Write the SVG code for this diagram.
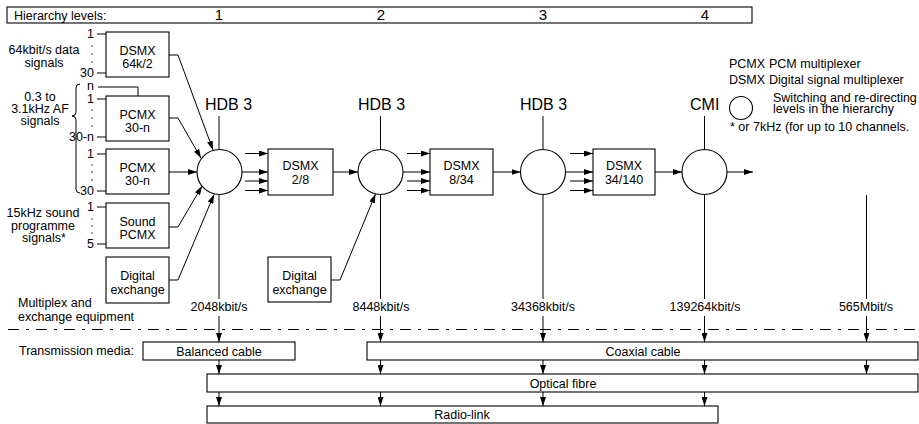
<svg xmlns="http://www.w3.org/2000/svg" width="919" height="424" viewBox="0 0 919 424">
<style>
text{font-family:"Liberation Sans",Arial,sans-serif;font-size:12.5px;fill:#000}
.c{text-anchor:middle}
.r{text-anchor:end}
.big{font-size:16px}
.lvl{font-size:15px;text-anchor:middle}
.box{fill:#fff;stroke:#000;stroke-width:1.1}
.ln{fill:none;stroke:#000;stroke-width:1}
.arr{fill:none;stroke:#000;stroke-width:1;marker-end:url(#ah)}
.dot{fill:#000}
</style>
<defs>
<marker id="ah" markerWidth="9" markerHeight="6" refX="9" refY="3" orient="auto" markerUnits="userSpaceOnUse"><path d="M0,0 L9,3 L0,6 z" fill="#000"/></marker>
</defs>
<rect width="919" height="424" fill="#fff"/>

<g id="levels">
<rect class="box" x="7" y="7" width="745" height="16"/>
<text x="14" y="19.5">Hierarchy levels:</text>
<text class="lvl" x="219" y="20">1</text>
<text class="lvl" x="381" y="20">2</text>
<text class="lvl" x="543" y="20">3</text>
<text class="lvl" x="705" y="20">4</text>
</g>

<g id="labels-left">
<text class="c" x="44" y="54">64kbit/s data</text>
<text class="c" x="44" y="67">signals</text>
<text class="c" x="40" y="101">0.3 to</text>
<text class="c" x="40" y="113">3.1kHz AF</text>
<text class="c" x="40" y="125">signals</text>
<path class="ln" d="M80,84 Q76,84 76,88 L76,112 Q76,116 72,116 Q76,116 76,120 L76,189 Q76,193 80,193"/>
<text class="c" x="43" y="217">15kHz sound</text>
<text class="c" x="43" y="230">programme</text>
<text class="c" x="44" y="242">signals*</text>
<text x="18" y="307">Multiplex and</text>
<text x="18" y="321">exchange equipment</text>
<text x="19" y="355">Transmission media:</text>
</g>

<g id="ticks">
<path class="ln" d="M97,34H106M97,73H106M98,87H138V96M97,99H106M97,137H106M97,154H106M97,191H106M97,207H106M97,244H106"/>
<text class="r" x="94" y="38">1</text>
<text class="r" x="94" y="77">30</text>
<text class="r" x="94" y="90">n</text>
<text class="r" x="94" y="103">1</text>
<text class="r" x="94" y="141">30-n</text>
<text class="r" x="94" y="158">1</text>
<text class="r" x="94" y="195">30</text>
<text class="r" x="94" y="211">1</text>
<text class="r" x="94" y="248">5</text>
<g class="dot">
<circle cx="92" cy="46" r="0.7"/><circle cx="92" cy="54" r="0.7"/><circle cx="92" cy="62" r="0.7"/>
<circle cx="92" cy="110" r="0.7"/><circle cx="92" cy="118" r="0.7"/><circle cx="92" cy="126" r="0.7"/>
<circle cx="92" cy="165" r="0.7"/><circle cx="92" cy="172" r="0.7"/><circle cx="92" cy="180" r="0.7"/>
<circle cx="92" cy="219" r="0.7"/><circle cx="92" cy="226" r="0.7"/><circle cx="92" cy="233" r="0.7"/>
</g>
</g>

<g id="dsmx64">
<rect class="box" x="106" y="32" width="63" height="45"/>
<text class="c" x="137.5" y="55">DSMX</text>
<text class="c" x="137.5" y="68">64k/2</text>
</g>
<g id="pcmx1">
<rect class="box" x="106" y="96" width="63" height="45"/>
<text class="c" x="137.5" y="119">PCMX</text>
<text class="c" x="137.5" y="132">30-n</text>
</g>
<g id="pcmx2">
<rect class="box" x="106" y="149" width="63" height="45"/>
<text class="c" x="137.5" y="172">PCMX</text>
<text class="c" x="137.5" y="185">30-n</text>
</g>
<g id="soundpcmx">
<rect class="box" x="106" y="203" width="63" height="45"/>
<text class="c" x="137.5" y="226">Sound</text>
<text class="c" x="137.5" y="239">PCMX</text>
</g>
<g id="dx1">
<rect class="box" x="106" y="257" width="63" height="46"/>
<text class="c" x="137.5" y="280">Digital</text>
<text class="c" x="137.5" y="294">exchange</text>
</g>
<g id="dx2">
<rect class="box" x="268" y="257" width="63" height="45"/>
<text class="c" x="299.5" y="280">Digital</text>
<text class="c" x="299.5" y="294">exchange</text>
</g>

<g id="sw1"><circle class="box" cx="219.5" cy="172" r="22.5"/><text class="big" x="205" y="110">HDB 3</text></g>
<g id="sw2"><circle class="box" cx="380.5" cy="172" r="22.5"/><text class="big" x="358" y="110">HDB 3</text></g>
<g id="sw3"><circle class="box" cx="543" cy="172" r="22.5"/><text class="big" x="520" y="110">HDB 3</text></g>
<g id="sw4"><circle class="box" cx="704.5" cy="172" r="22.5"/><text class="big" x="690" y="110">CMI</text></g>

<g id="dsmx28">
<rect class="box" x="268" y="149" width="65" height="46"/>
<text class="c" x="300.5" y="169.5">DSMX</text>
<text class="c" x="300.5" y="183.5">2/8</text>
</g>
<g id="dsmx834">
<rect class="box" x="430" y="149" width="63" height="46"/>
<text class="c" x="461.5" y="169.5">DSMX</text>
<text class="c" x="461.5" y="183.5">8/34</text>
</g>
<g id="dsmx34140">
<rect class="box" x="593" y="149" width="62" height="46"/>
<text class="c" x="624" y="169.5">DSMX</text>
<text class="c" x="624" y="183.5">34/140</text>
</g>

<g id="legend">
<text x="729" y="68" font-size="12">PCMX</text>
<text x="769" y="68">PCM multiplexer</text>
<text x="729" y="84" font-size="12">DSMX</text>
<text x="769" y="84">Digital signal multiplexer</text>
<circle class="box" cx="741" cy="108" r="11.5"/>
<text x="773" y="101.5">Switching and re-directing</text>
<text x="773" y="113">levels in the hierarchy</text>
<text x="730" y="131">* or 7kHz (for up to 10 channels.</text>
</g>

<g id="rates">
<text class="c" x="219" y="311">2048kbit/s</text>
<text class="c" x="381" y="311">8448kbit/s</text>
<text class="c" x="543" y="311">34368kbit/s</text>
<text class="c" x="705" y="311">139264kbit/s</text>
<text class="c" x="866" y="311">565Mbit/s</text>
</g>

<g id="balanced"><rect class="box" x="143" y="342" width="152" height="18"/><text class="c" x="219" y="355.5">Balanced cable</text></g>
<g id="coax"><rect class="box" x="367" y="342" width="551" height="18"/><text class="c" x="643" y="355.5">Coaxial cable</text></g>
<g id="optical"><rect class="box" x="207" y="374" width="711" height="18"/><text class="c" x="563" y="387.5">Optical fibre</text></g>
<g id="radio"><rect class="box" x="207" y="406" width="511" height="17"/><text class="c" x="462" y="419">Radio-link</text></g>

<g id="connectors">
<path class="ln" d="M219,116V149.5M380.5,116V149.5M543,116V149.5M704.5,116V149.5"/>
<path class="arr" d="M169,55H178L213,150"/>
<path class="arr" d="M169,118H178L201,158"/>
<path class="arr" d="M169,172H197"/>
<path class="arr" d="M169,227H178L202,186"/>
<path class="arr" d="M169,280H178L214,194.5"/>
<path class="arr" d="M331,280H340L375.5,194"/>
<path class="arr" d="M245,153.5H268"/>
<path class="arr" d="M242,172H268"/>
<path class="arr" d="M245,181H268"/>
<path class="arr" d="M245,190.5H268"/>
<path class="arr" d="M333,172H358"/>
<path class="arr" d="M407,153.5H430"/>
<path class="arr" d="M403,172H430"/>
<path class="arr" d="M407,181H430"/>
<path class="arr" d="M407,190.5H430"/>
<path class="arr" d="M493,172H520.5"/>
<path class="arr" d="M570,153.5H593"/>
<path class="arr" d="M565.5,172H593"/>
<path class="arr" d="M570,181H593"/>
<path class="arr" d="M570,190.5H593"/>
<path class="arr" d="M655,172H682"/>
<path class="arr" d="M727,172H753"/>
<path class="ln" d="M219,194.5V299M380.5,194.5V299M543,194.5V299M704.5,194.5V299M866.5,195V299"/>
<path class="arr" d="M219,316V342"/>
<path class="arr" d="M380.5,316V342"/>
<path class="arr" d="M543,316V342"/>
<path class="arr" d="M704.5,316V342"/>
<path class="arr" d="M866.5,316V342"/>
<path class="arr" d="M219,360V374"/>
<path class="arr" d="M380.5,360V374"/>
<path class="arr" d="M543,360V374"/>
<path class="arr" d="M704.5,360V374"/>
<path class="arr" d="M866.5,360V374"/>
<path class="arr" d="M219,392V406"/>
<path class="arr" d="M380.5,392V406"/>
<path class="arr" d="M543,392V406"/>
<path class="arr" d="M704.5,392V406"/>
<path class="ln" d="M8,329.5H917" stroke-dasharray="11 7 3 7"/>
</g>
</svg>
